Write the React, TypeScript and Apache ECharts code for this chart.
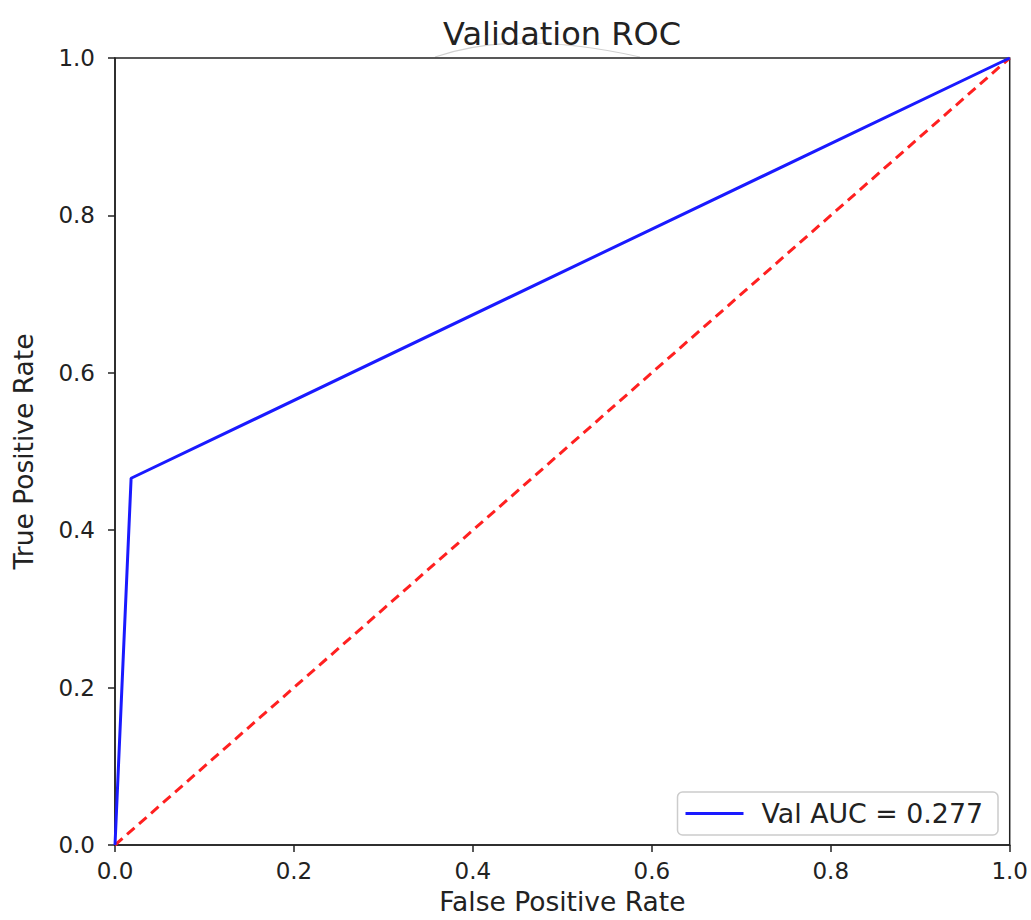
import React, { useEffect, useRef } from "react";
import * as echarts from "echarts";

const fprValues = [0, 0.018, 1];
const tprValues = [0, 0.466, 1];
const chanceX = [0, 1];
const chanceY = [0, 1];
const tickValues = [0, 0.2, 0.4, 0.6, 0.8, 1.0];
const legendLabel = "Val AUC = 0.277";
const titleText = "Validation ROC";
const xName = "False Positive Rate";
const yName = "True Positive Rate";

const FONT = "DejaVu Sans";

export default function App() {
  const ref = useRef<HTMLDivElement>(null);
  useEffect(() => {
    if (!ref.current) return;
    const chart = echarts.init(ref.current, undefined, { renderer: "svg" });
    const axisCommon = {
      type: "value" as const,
      min: 0,
      max: 1,
      interval: 0.2,
      nameLocation: "middle" as const,
      nameTextStyle: { fontFamily: FONT, fontSize: 26.5, color: "#222" },
      axisLine: { show: true, onZero: false, lineStyle: { color: "#222", width: 1.5 } },
      axisTick: { show: true, inside: false, length: 7, lineStyle: { color: "#222", width: 1.5 } },
      splitLine: { show: false },
      axisLabel: {
        fontFamily: FONT,
        fontSize: 23,
        color: "#222",
        showMinLabel: true,
        showMaxLabel: true,
        formatter: (v: number) => (tickValues.some((t) => Math.abs(t - v) < 1e-9) ? v.toFixed(1) : ""),
      },
    };
    chart.setOption({
      animation: false,
      backgroundColor: "#fff",
      title: {
        text: titleText,
        left: 557,
        textAlign: "center",
        top: 13,
        textStyle: { fontFamily: FONT, fontSize: 32, fontWeight: "normal", color: "#222" },
      },
      grid: {
        left: 115,
        right: 21,
        top: 58,
        bottom: 72,
        show: true,
        borderColor: "#222",
        borderWidth: 1.5,
        backgroundColor: "transparent",
      },
      legend: {
        right: 33,
        bottom: 85,
        data: [{ name: legendLabel, icon: "path://M0,0 L58,0 L58,3 L0,3 Z" }],
        itemWidth: 58,
        itemHeight: 14,
        padding: [8, 15, 8, 8],
        borderColor: "#ccc",
        borderWidth: 1.5,
        borderRadius: 5,
        backgroundColor: "#fff",
        textStyle: { fontFamily: FONT, fontSize: 26.8, color: "#222", padding: [0, 0, 0, 13], lineHeight: 26 },
      },
      xAxis: {
        ...axisCommon,
        name: xName,
        nameGap: 43,
        axisLabel: { ...axisCommon.axisLabel, margin: 14 },
      },
      yAxis: {
        ...axisCommon,
        name: yName,
        nameGap: 78,
        axisLabel: { ...axisCommon.axisLabel, margin: 20 },
      },
      graphic: [
        {
          type: "bezierCurve",
          shape: { x1: 435, y1: 57, x2: 640, y2: 57, cpx1: 516, cpy1: 29 },
          style: { stroke: "#d0d0d0", lineWidth: 1.2, fill: "none" },
          silent: true,
          z: -1,
        },
      ],
      series: [
        {
          name: legendLabel,
          type: "line",
          data: fprValues.map((x, i) => [x, tprValues[i]]),
          symbol: "none",
          lineStyle: { color: "#1a1aff", width: 3 },
          itemStyle: { color: "#1a1aff" },
          z: 3,
        },
        {
          name: "chance",
          type: "line",
          data: chanceX.map((x, i) => [x, chanceY[i]]),
          symbol: "none",
          lineStyle: { color: "#ff2020", width: 3, type: [10, 6] },
          z: 2,
        },
      ],
    });
    return () => chart.dispose();
  }, []);
  return (
    <div
      ref={ref}
      style={{ position: "absolute", left: 0, top: 0, width: 1031, height: 920 }}
    />
  );
}
